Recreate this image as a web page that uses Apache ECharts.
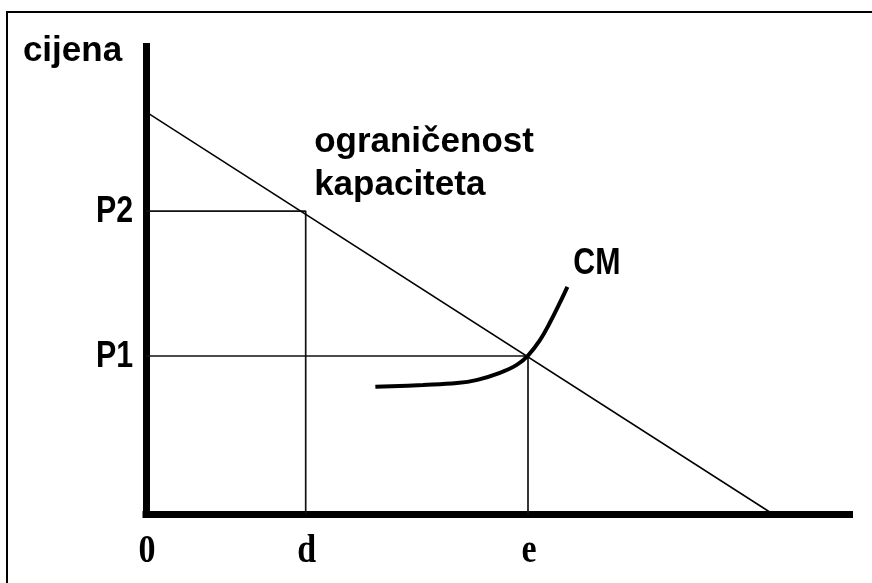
<!DOCTYPE html>
<html>
<head>
<meta charset="utf-8">
<script src="https://cdn.jsdelivr.net/npm/echarts@6/dist/echarts.min.js"></script>
<style>
html,body{margin:0;padding:0;background:#fff;}
#c{width:872px;height:583px;}
</style>
</head>
<body>
<div id="c"></div>
<script>
// ---- data (axis units: quantity 0..100, price 0..100) ----
const priceLabels = ['P2', 'P1'];
const priceValues = [64.8, 33.8];
const qtyLabels = ['0', 'd', 'e'];
const qtyValues = [0, 22.7, 54.3];
const demandLine = [[0, 86.0], [89.1, 0]];          // ograničenost kapaciteta
const cmCurve = [
  [32.6, 27.2], [39.4, 27.6], [44.2, 28.0], [47.1, 28.7], [50.3, 30.2],
  [52.7, 31.9], [54.3, 33.9], [56.0, 37.2], [57.4, 40.9], [58.8, 45.1], [59.9, 48.6]
];
const yAxisName = 'cijena';
const demandName = ['ograničenost', 'kapaciteta'];
const demandNameAt = [23.9, 79.4];
const cmName = 'CM';
const cmNameAt = [64.1, 53.6];
const axisNameAt = [-17.5, 99.0];

// guide lines from tick values
const guideP2 = [[0, priceValues[0]], [qtyValues[1], priceValues[0]], [qtyValues[1], 0]];
const guideP1 = [[0, priceValues[1]], [qtyValues[2], priceValues[1]], [qtyValues[2], 0]];

function textSeries(items, font, scaleX, align, dx, dy) {
  return {
    type: 'custom',
    silent: true,
    clip: false,
    z: 10,
    data: items.map(function (it) { return [it.x, it.y]; }),
    renderItem: function (params, api) {
      const it = items[params.dataIndex];
      const p = api.coord([api.value(0), api.value(1)]);
      return {
        type: 'text',
        x: p[0] + dx,
        y: p[1] + dy,
        scaleX: scaleX,
        style: {
          text: it.text,
          font: font,
          align: align,
          verticalAlign: 'middle',
          fill: '#000'
        }
      };
    }
  };
}

const sansBold = 'bold 35px "Liberation Sans", Arial, sans-serif';
const narrowBold = 'bold 37px "Liberation Sans", Arial, sans-serif';
const serifBold = 'bold 40px "Liberation Serif", "Times New Roman", serif';

const chart = echarts.init(document.getElementById('c'), null, {renderer: 'canvas'});
const axisCommon = {
  type: 'value', min: 0, max: 100,
  axisLine: {show: true, lineStyle: {color: '#000', width: 7, cap: 'square'}},
  axisTick: {show: false}, axisLabel: {show: false}, splitLine: {show: false}
};
const lineCommon = {type: 'line', symbol: 'none', silent: true, animation: false};

chart.setOption({
  animation: false,
  backgroundColor: '#fff',
  grid: {left: 146, right: 22.5, top: 46.5, bottom: 69},
  xAxis: axisCommon,
  yAxis: axisCommon,
  graphic: [{
    type: 'rect', shape: {x: 7, y: 12, width: 2000, height: 2000},
    style: {fill: 'none', stroke: '#000', lineWidth: 2}, silent: true
  }],
  series: [
    Object.assign({}, lineCommon, {data: guideP2, lineStyle: {color: '#111', width: 1.7}}),
    Object.assign({}, lineCommon, {data: guideP1, lineStyle: {color: '#111', width: 1.7}}),
    Object.assign({}, lineCommon, {data: demandLine, lineStyle: {color: '#000', width: 1.5}}),
    Object.assign({}, lineCommon, {data: cmCurve, smooth: 0.4, lineStyle: {color: '#000', width: 4}}),
    textSeries(priceLabels.map(function (t, i) { return {x: 0, y: priceValues[i], text: t}; }),
      narrowBold, 0.82, 'right', -13, 1),
    textSeries(qtyLabels.map(function (t, i) { return {x: qtyValues[i], y: 0, text: t}; }),
      serifBold, 0.85, 'center', 1, 38),
    textSeries([{x: cmNameAt[0], y: cmNameAt[1], text: cmName}], narrowBold, 0.82, 'center', 0, 0),
    textSeries([
      {x: demandNameAt[0], y: demandNameAt[1], text: demandName[0]},
      {x: demandNameAt[0], y: demandNameAt[1] - 9, text: demandName[1]}
    ], sansBold, 1, 'left', 0, 0),
    textSeries([{x: axisNameAt[0], y: axisNameAt[1], text: yAxisName}], sansBold, 1, 'left', 0, 0)
  ]
});
</script>
</body>
</html>
